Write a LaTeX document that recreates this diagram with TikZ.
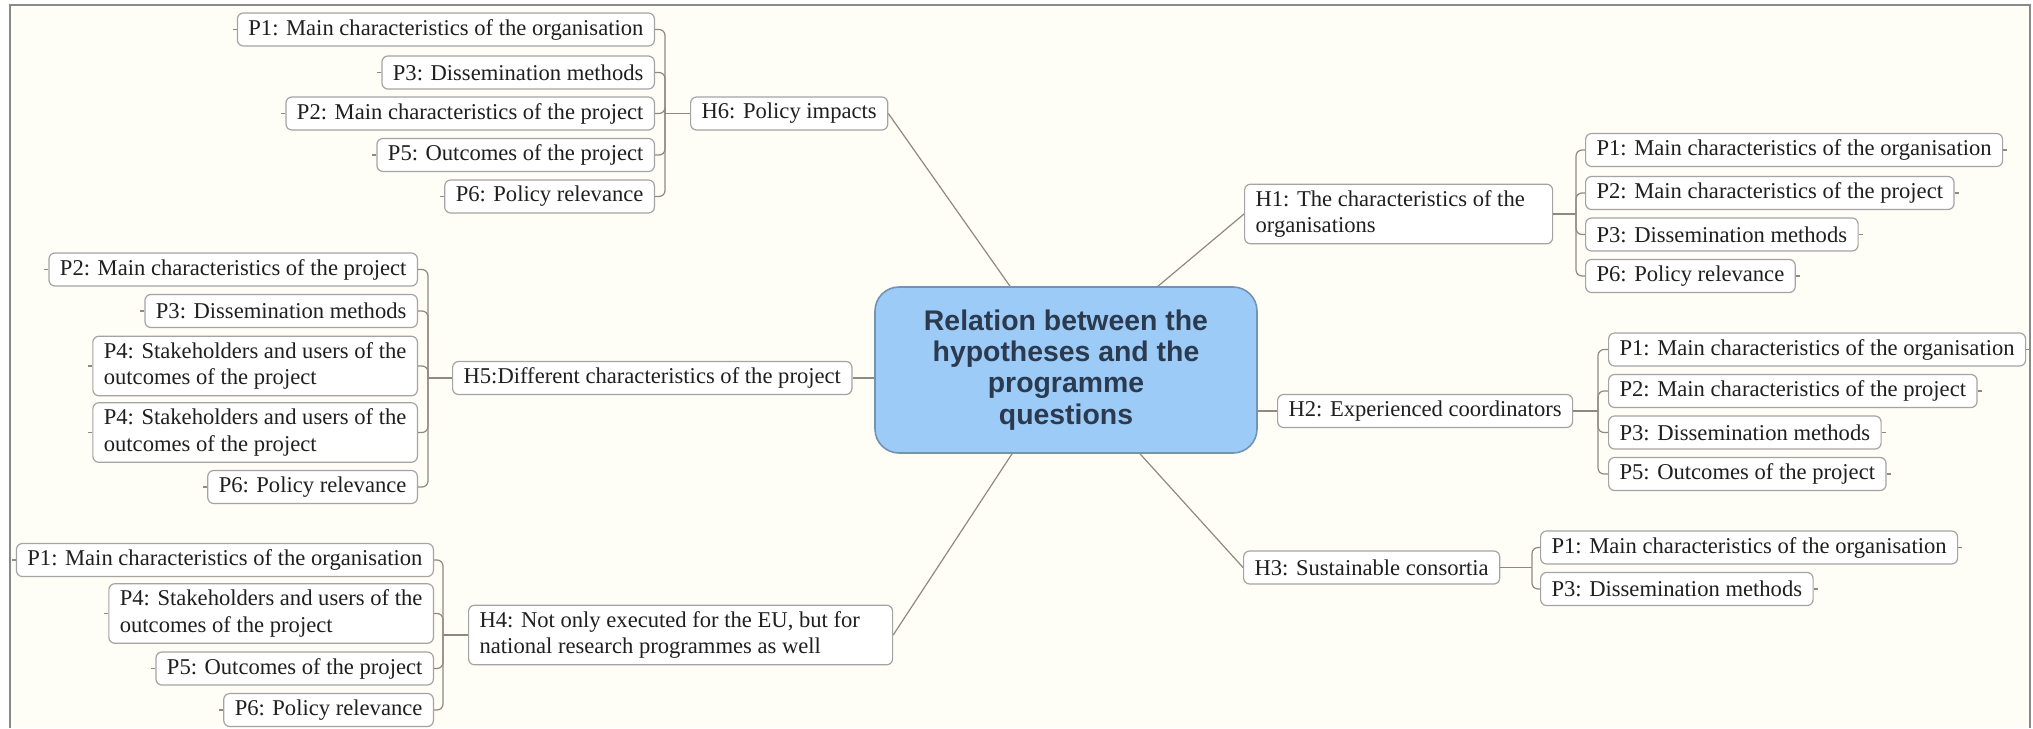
\documentclass[tikz,border=0pt]{standalone}
\usepackage{fontspec}
\setmainfont{Liberation Serif}
\newfontfamily\titlefont{Liberation Sans}
\usetikzlibrary{calc}
\definecolor{bgcol}{HTML}{FEFEF6}
\definecolor{framecol}{HTML}{8A8A8A}
\definecolor{boxcol}{HTML}{A4A4A4}
\definecolor{linecol}{HTML}{8E8A80}
\definecolor{cfill}{HTML}{9CCBF7}
\definecolor{cdraw}{HTML}{7393B3}
\definecolor{ctext}{HTML}{2B3A4E}
\begin{document}
\begin{tikzpicture}[x=0.5pt,y=-0.5pt,
  box/.style={draw=boxcol, fill=white, rounded corners=3pt, line width=0.6pt,
    font=\fontsize{11.3}{13.4}\selectfont, text=black!88, inner xsep=5.5pt,
    inner ysep=3pt, minimum height=16.5pt, align=flush left},
  lbox/.style={box, anchor=east},
  rbox/.style={box, anchor=west},
  conn/.style={draw=linecol, line width=0.6pt},
  br/.style={conn, rounded corners=3pt},
  center/.style={draw=cdraw, fill=cfill, rounded corners=12pt, line width=0.8pt,
    minimum width=191pt, minimum height=83pt, align=center, text=ctext,
    font=\titlefont\bfseries\fontsize{14.2}{15.6}\selectfont}]
\useasboundingbox (0,0) rectangle (2033,728);
\fill[white] (0,0) rectangle (2033,728);
\fill[bgcol] (10,5) rectangle (2030,728);
\draw[framecol, line width=0.9pt] (10,728) -- (10,5) -- (2030,5) -- (2030,728);

% central node
\node[center] (c) at (1066,370) {Relation between the\\hypotheses and the\\programme\\questions};

% H6 group
\node[rbox] (h6) at (690,113.5) {H6: Policy impacts};
\node[lbox] (a1) at (655,29.5) {P1: Main characteristics of the organisation};
\node[lbox] (a2) at (655,72.5) {P3: Dissemination methods};
\node[lbox] (a3) at (655,113.5) {P2: Main characteristics of the project};
\node[lbox] (a4) at (655,155) {P5: Outcomes of the project};
\node[lbox] (a5) at (655,196.5) {P6: Policy relevance};
\coordinate (ja) at (665,113.5);

% H5 group
\node[rbox] (h5) at (452,378) {H5:Different characteristics of the project};
\node[lbox] (b1) at (418,269.5) {P2: Main characteristics of the project};
\node[lbox] (b2) at (418,311) {P3: Dissemination methods};
\node[lbox] (b3) at (418,366) {P4: Stakeholders and users of the\\outcomes of the project};
\node[lbox] (b4) at (418,432.5) {P4: Stakeholders and users of the\\outcomes of the project};
\node[lbox] (b5) at (418,487) {P6: Policy relevance};
\coordinate (jb) at (428,378);

% H4 group
\node[rbox, text width=201pt] (h4) at (468,635) {H4: Not only executed for the EU, but for\\national research programmes as well};
\node[lbox] (c1) at (434,560) {P1: Main characteristics of the organisation};
\node[lbox] (c2) at (434,613.5) {P4: Stakeholders and users of the\\outcomes of the project};
\node[lbox] (c3) at (434,668.5) {P5: Outcomes of the project};
\node[lbox] (c4) at (434,710) {P6: Policy relevance};
\coordinate (jc) at (443,635);

% H1 group
\node[rbox, text width=143pt] (h1) at (1244,214) {H1: The characteristics of the\\organisations};
\node[rbox] (d1) at (1585,150) {P1: Main characteristics of the organisation};
\node[rbox] (d2) at (1585,193) {P2: Main characteristics of the project};
\node[rbox] (d3) at (1585,234.5) {P3: Dissemination methods};
\node[rbox] (d4) at (1585,276) {P6: Policy relevance};
\coordinate (jd) at (1576,214);

% H2 group
\node[rbox] (h2) at (1277,411) {H2: Experienced coordinators};
\node[rbox] (e1) at (1608,349.5) {P1: Main characteristics of the organisation};
\node[rbox] (e2) at (1608,391) {P2: Main characteristics of the project};
\node[rbox] (e3) at (1608,432.5) {P3: Dissemination methods};
\node[rbox] (e4) at (1608,474) {P5: Outcomes of the project};
\coordinate (je) at (1598,411);

% H3 group
\node[rbox] (h3) at (1243,567.5) {H3: Sustainable consortia};
\node[rbox] (f1) at (1540,547.5) {P1: Main characteristics of the organisation};
\node[rbox] (f2) at (1540,589) {P3: Dissemination methods};
\coordinate (jf) at (1532,567.5);

% brackets, left side
\foreach \n in {a1,a2,a3,a4,a5} {\draw[br] (\n.east) -| (ja); \draw[conn] (\n.west) -- ++(-4,0);}
\draw[conn] (ja) -- (h6.west);
\foreach \n in {b1,b2,b3,b4,b5} {\draw[br] (\n.east) -| (jb); \draw[conn] (\n.west) -- ++(-4,0);}
\draw[conn] (jb) -- (h5.west);
\foreach \n in {c1,c2,c3,c4} {\draw[br] (\n.east) -| (jc); \draw[conn] (\n.west) -- ++(-4,0);}
\draw[conn] (jc) -- (h4.west);

% brackets, right side
\foreach \n in {d1,d2,d3,d4} {\draw[br] (\n.west) -| (jd); \draw[conn] (\n.east) -- ++(4,0);}
\draw[conn] (jd) -- (h1.east);
\foreach \n in {e1,e2,e3,e4} {\draw[br] (\n.west) -| (je); \draw[conn] (\n.east) -- ++(4,0);}
\draw[conn] (je) -- (h2.east);
\foreach \n in {f1,f2} {\draw[br] (\n.west) -| (jf); \draw[conn] (\n.east) -- ++(4,0);}
\draw[conn] (jf) -- (h3.east);

% main branches
\draw[conn] (h6.east) -- ($(c.north)+(-56,0)$);
\draw[conn] (h1.west) -- ($(c.north)+(92,0)$);
\draw[conn] (h2.west) -- (h2.west -| c.east);
\draw[conn] (h5.east) -- (h5.east -| c.west);
\draw[conn] (h4.east) -- ($(c.south)+(-54,0)$);
\draw[conn] (h3.west) -- ($(c.south)+(74,0)$);
\end{tikzpicture}
\end{document}
